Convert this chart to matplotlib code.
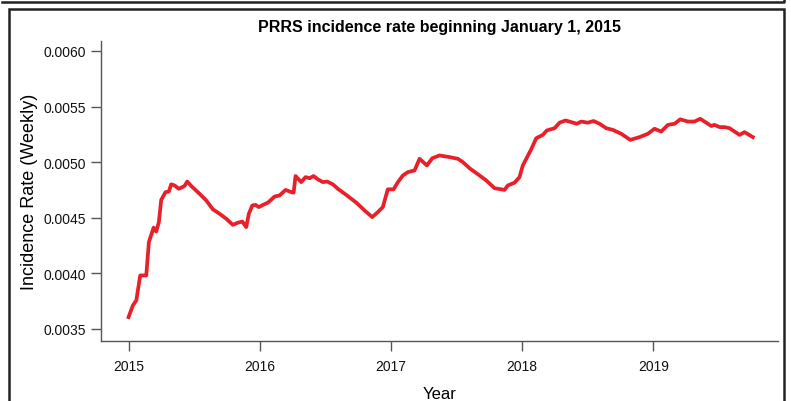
import matplotlib
matplotlib.use("Agg")
import matplotlib.pyplot as plt
from matplotlib.patches import Rectangle
from matplotlib.lines import Line2D

plt.rcParams['font.family'] = ['Liberation Sans', 'DejaVu Sans']

# weekly incidence rate (decimal year, rate)
year = [2015.00, 2015.033, 2015.059, 2015.089, 2015.135, 2015.155, 2015.191, 2015.211,
        2015.231, 2015.249, 2015.282, 2015.307, 2015.325, 2015.351, 2015.383, 2015.427,
        2015.447, 2015.478, 2015.541, 2015.592, 2015.643, 2015.694, 2015.745, 2015.795,
        2015.833, 2015.867, 2015.897, 2015.917, 2015.943, 2015.968, 2015.993, 2016.024,
        2016.062, 2016.113, 2016.151, 2016.197, 2016.240, 2016.258, 2016.273, 2016.316,
        2016.349, 2016.380, 2016.410, 2016.443, 2016.481, 2016.514, 2016.557, 2016.595,
        2016.659, 2016.736, 2016.799, 2016.857, 2016.900, 2016.938, 2016.976, 2017.020,
        2017.053, 2017.091, 2017.129, 2017.180, 2017.218, 2017.274, 2017.315, 2017.370,
        2017.447, 2017.510, 2017.548, 2017.599, 2017.675, 2017.726, 2017.790, 2017.866,
        2017.891, 2017.942, 2017.980, 2018.005, 2018.069, 2018.107, 2018.158, 2018.188,
        2018.247, 2018.285, 2018.331, 2018.374, 2018.417, 2018.450, 2018.501, 2018.544,
        2018.590, 2018.641, 2018.691, 2018.755, 2018.824, 2018.895, 2018.958, 2019.009,
        2019.060, 2019.111, 2019.162, 2019.205, 2019.263, 2019.314, 2019.357, 2019.403,
        2019.441, 2019.466, 2019.505, 2019.543, 2019.581, 2019.619, 2019.657, 2019.695,
        2019.758]
rate = [0.003605, 0.00371, 0.003755, 0.00398, 0.00398, 0.00428, 0.00441, 0.004375,
        0.00446, 0.00466, 0.00473, 0.004735, 0.0048, 0.00479, 0.00476, 0.004785,
        0.004825, 0.004785, 0.004715, 0.004655, 0.004575, 0.004535, 0.00449, 0.004435,
        0.004455, 0.004465, 0.004415, 0.004535, 0.00461, 0.004615, 0.004595, 0.004615,
        0.004635, 0.00469, 0.0047, 0.00475, 0.00473, 0.004725, 0.004875, 0.00482,
        0.004865, 0.004855, 0.004875, 0.004845, 0.00482, 0.004825, 0.0048, 0.00476,
        0.004705, 0.004635, 0.004565, 0.004505, 0.00455, 0.004595, 0.004755, 0.004755,
        0.00482, 0.00488, 0.00491, 0.004925, 0.00503, 0.00497, 0.005035, 0.00506,
        0.005045, 0.00503, 0.0050, 0.004945, 0.00488, 0.004835, 0.004765, 0.00475,
        0.00479, 0.004815, 0.004865, 0.00497, 0.005115, 0.005215, 0.005245, 0.005285,
        0.005305, 0.005355, 0.005375, 0.00536, 0.005345, 0.005365, 0.005355, 0.00537,
        0.005345, 0.005305, 0.00529, 0.005255, 0.0052, 0.005225, 0.005255, 0.0053,
        0.005275, 0.005335, 0.005345, 0.005385, 0.005365, 0.005365, 0.00539, 0.005355,
        0.005325, 0.005335, 0.005315, 0.005315, 0.005305, 0.005275, 0.005245, 0.00527,
        0.005225]

xticks = [2015, 2016, 2017, 2018, 2019]
yticks = [0.0035, 0.0040, 0.0045, 0.0050, 0.0055, 0.0060]

W, H = 791, 402
fig = plt.figure(figsize=(W / 100, H / 100), dpi=100)
ax = fig.add_axes([101 / W, 1 - 342 / H, (778 - 101) / W, (342 - 42) / H])

ax.plot(year, rate, color='#e8202a', lw=2.7, solid_joinstyle='round')

ax.set_xlim(2014.79, 2019.95)
ax.set_ylim(0.00339, 0.00609)
ax.set_xticks(xticks)
ax.set_xticklabels([str(t) for t in xticks])
ax.set_yticks(yticks)
ax.set_yticklabels([f'{t:.4f}' for t in yticks])

for s in ['top', 'right']:
    ax.spines[s].set_visible(False)
for s in ['left', 'bottom']:
    ax.spines[s].set_color('#555555')
    ax.spines[s].set_linewidth(1.0)
ax.tick_params(direction='out', length=7, width=1, color='#555555',
               labelsize=10, labelcolor='#111111')
ax.tick_params(axis='x', pad=6)
ax.tick_params(axis='y', pad=4)

ax.set_title('PRRS incidence rate beginning January 1, 2015',
             fontsize=11.5, fontweight='bold', pad=7)
ax.set_ylabel('Incidence Rate (Weekly)', fontsize=13, labelpad=4)
ax.set_xlabel('Year', fontsize=12, labelpad=9)

# outer frame and the edge of the panel above
fig.patches.append(Rectangle((9 / W, -0.05), (784 - 9) / W, 1.05 - 9.5 / H,
                             transform=fig.transFigure, fill=False,
                             edgecolor='#222222', lw=1.8))
fig.lines.append(Line2D([2 / W, 784 / W, 784 / W], [1 - 2.7 / H, 1 - 2.7 / H, 1.0],
                        transform=fig.transFigure, color='#222222', lw=1.8))

fig.savefig('out.png', dpi=100)
